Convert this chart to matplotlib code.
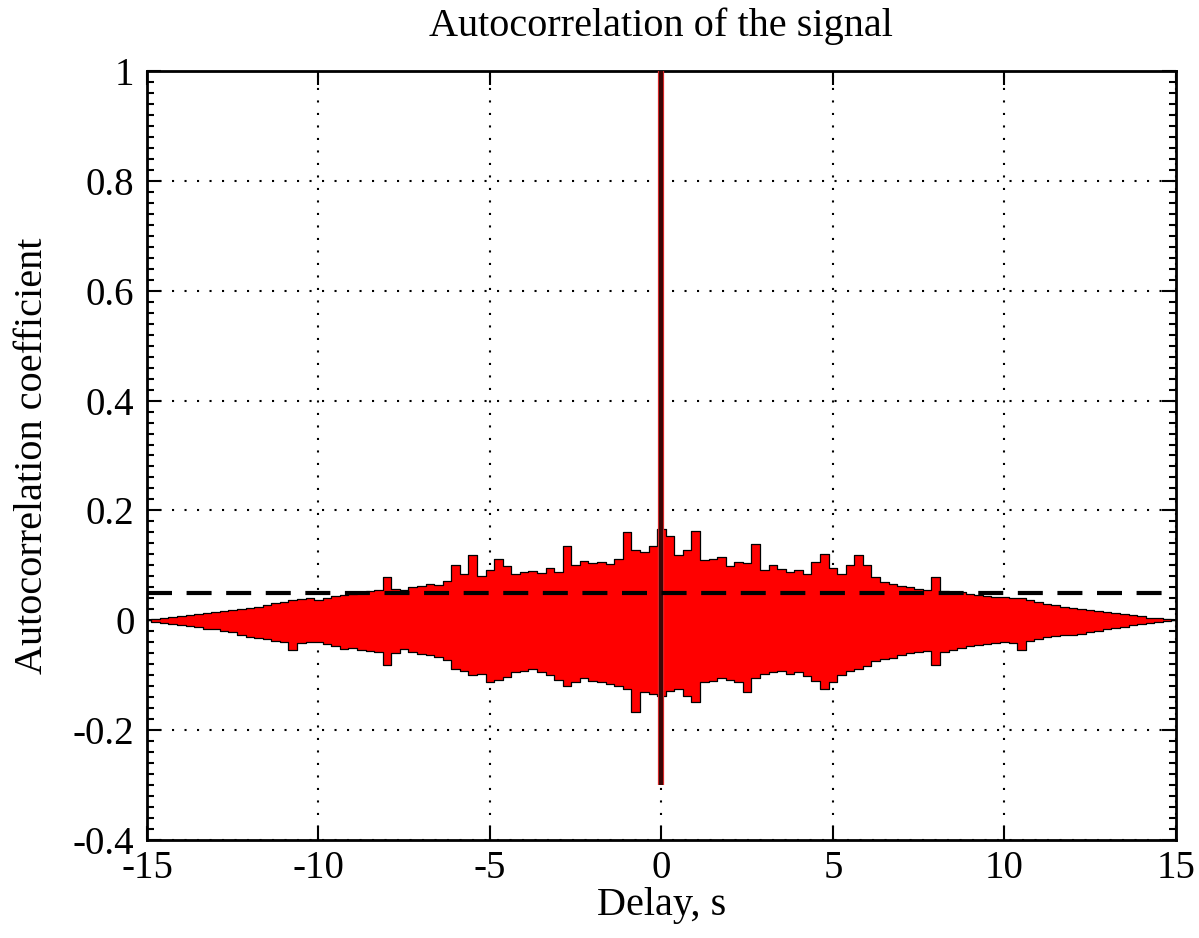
import numpy as np
import matplotlib
matplotlib.use("Agg")
import matplotlib.pyplot as plt
from matplotlib.ticker import MultipleLocator

# autocorrelation envelope, 0.25 s step from -15 s to 15 s
upper = [0.0, 0.003, 0.005, 0.006, 0.008, 0.010, 0.011, 0.014, 0.015, 0.017,
         0.018, 0.020, 0.022, 0.024, 0.027, 0.031, 0.034, 0.037, 0.038, 0.040,
         0.037, 0.041, 0.044, 0.046, 0.048, 0.050, 0.053, 0.056, 0.078, 0.057,
         0.055, 0.060, 0.062, 0.066, 0.064, 0.072, 0.100, 0.085, 0.118, 0.080,
         0.092, 0.112, 0.098, 0.085, 0.088, 0.090, 0.086, 0.096, 0.088, 0.136,
         0.100, 0.108, 0.104, 0.106, 0.102, 0.112, 0.160, 0.128, 0.125, 0.136,
         0.166,
         0.154, 0.118, 0.128, 0.163, 0.110, 0.112, 0.115, 0.098, 0.106, 0.104,
         0.138, 0.092, 0.100, 0.094, 0.088, 0.092, 0.085, 0.107, 0.120, 0.095,
         0.084, 0.100, 0.118, 0.100, 0.078, 0.069, 0.066, 0.062, 0.060, 0.057,
         0.056, 0.078, 0.054, 0.052, 0.051, 0.048, 0.046, 0.045, 0.043, 0.042,
         0.041, 0.040, 0.036, 0.033, 0.030, 0.027, 0.025, 0.023, 0.021, 0.019,
         0.017, 0.015, 0.013, 0.011, 0.009, 0.007, 0.005, 0.004, 0.002, 0.0]
lower = [0.0, -0.003, -0.005, -0.007, -0.009, -0.011, -0.012, -0.015, -0.016, -0.019,
         -0.022, -0.026, -0.030, -0.032, -0.035, -0.038, -0.040, -0.055, -0.042, -0.040,
         -0.040, -0.043, -0.047, -0.052, -0.050, -0.054, -0.056, -0.058, -0.082, -0.060,
         -0.052, -0.058, -0.062, -0.064, -0.066, -0.072, -0.088, -0.092, -0.100, -0.098,
         -0.113, -0.108, -0.104, -0.095, -0.092, -0.089, -0.094, -0.100, -0.108, -0.119,
         -0.112, -0.106, -0.110, -0.113, -0.116, -0.120, -0.125, -0.167, -0.131, -0.134,
         -0.137,
         -0.128, -0.125, -0.138, -0.149, -0.113, -0.110, -0.105, -0.108, -0.113, -0.131,
         -0.105, -0.098, -0.095, -0.093, -0.097, -0.094, -0.102, -0.110, -0.125, -0.112,
         -0.100, -0.092, -0.089, -0.084, -0.075, -0.070, -0.068, -0.063, -0.060, -0.058,
         -0.056, -0.082, -0.058, -0.054, -0.050, -0.047, -0.045, -0.043, -0.041, -0.040,
         -0.042, -0.055, -0.038, -0.035, -0.031, -0.029, -0.027, -0.026, -0.025, -0.022,
         -0.019, -0.016, -0.014, -0.012, -0.009, -0.007, -0.005, -0.004, -0.002, 0.0]
delay = np.linspace(-15, 15, len(upper))

# zero-lag peak and the threshold line
peak_delay = 0.0
peak_top = 1.0
peak_bottom = -0.3
threshold = 0.05

plt.rcParams['font.family'] = ['Liberation Serif', 'DejaVu Serif']

fig = plt.figure(figsize=(11.99, 9.38), dpi=100)
ax = fig.add_axes([0.1226, 0.1045, 0.858, 0.8198])

# red filled body with black spiky outline
ax.fill_between(delay, lower, upper, step='mid', color='#ff0000', lw=0, zorder=2)
ax.plot(delay, upper, drawstyle='steps-mid', color='black', lw=0.9, zorder=3)
ax.plot(delay, lower, drawstyle='steps-mid', color='black', lw=0.9, zorder=3)

# central peak
ax.vlines(peak_delay, peak_bottom, peak_top, color='#ff3030', lw=4.5, zorder=4)
ax.vlines(peak_delay, peak_bottom, peak_top, color='#3a0606', lw=3.2, zorder=5)

ax.axhline(threshold, color='black', lw=3, dashes=(6, 3.5), zorder=6)

ax.set_xlim(-15, 15)
ax.set_ylim(-0.4, 1)
ax.set_xticks([-15, -10, -5, 0, 5, 10, 15])
ax.set_yticks([-0.4, -0.2, 0, 0.2, 0.4, 0.6, 0.8, 1])
ax.set_yticklabels(['-0.4', '-0.2', '0', '0.2', '0.4', '0.6', '0.8', '1'])
ax.set_xticklabels(['-15', '-10', '-5', '0', '5', '10', '15'])
ax.yaxis.set_minor_locator(MultipleLocator(0.02))

ax.grid(True, which='major', color='black', linestyle=(0, (1, 5)), lw=1.5, zorder=1)
ax.tick_params(which='both', direction='in', top=True, right=True, width=1.5)
ax.tick_params(which='major', length=10, labelsize=28)
ax.tick_params(axis='y', which='major', pad=9)
ax.tick_params(axis='x', which='major', pad=7)
ax.tick_params(which='minor', length=5)
for s in ax.spines.values():
    s.set_linewidth(2)

ax.set_title('Autocorrelation of the signal', fontsize=29, pad=25)
ax.set_xlabel('Delay, s', fontsize=29, labelpad=0)
ax.set_ylabel('Autocorrelation coefficient', fontsize=29, labelpad=16)

fig.savefig('out.png', dpi=100)
